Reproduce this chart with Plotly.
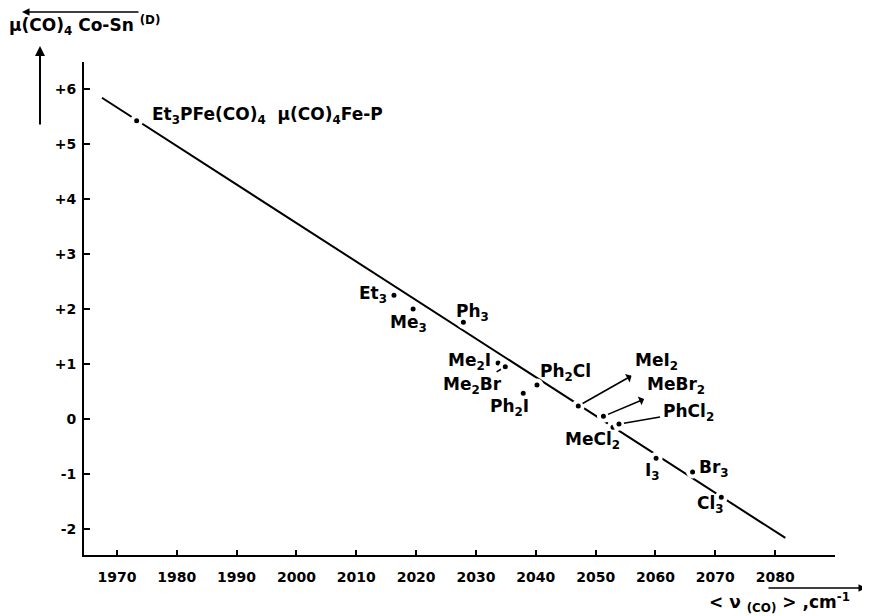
import plotly.graph_objects as go

# ---------------- data ----------------
compounds = ["Et3PFe(CO)4", "Et3", "Me3", "Ph3", "Me2I", "Me2Br", "Ph2I", "Ph2Cl",
             "MeI2", "MeBr2", "MeCl2", "PhCl2", "I3", "Br3", "Cl3"]
nu_co = [1973.3, 2016.3, 2019.5, 2027.9, 2033.7, 2034.9, 2037.9, 2040.2,
         2047.1, 2051.3, 2052.9, 2053.9, 2060.1, 2066.2, 2071.0]
mu_dipole = [5.42, 2.25, 2.00, 1.76, 1.02, 0.95, 0.47, 0.62,
             0.24, 0.05, -0.15, -0.09, -0.71, -0.96, -1.42]
labels = ["Et<sub>3</sub>PFe(CO)<sub>4</sub>  \u03bc(CO)<sub>4</sub>Fe-P",
          "Et<sub>3</sub>", "Me<sub>3</sub>", "Ph<sub>3</sub>", "Me<sub>2</sub>I",
          "Me<sub>2</sub>Br", "Ph<sub>2</sub>I", "Ph<sub>2</sub>Cl", "MeI<sub>2</sub>",
          "MeBr<sub>2</sub>", "MeCl<sub>2</sub>", "PhCl<sub>2</sub>", "I<sub>3</sub>",
          "Br<sub>3</sub>", "Cl<sub>3</sub>"]

fit_nu = [1967.5, 2081.7]
fit_mu = [5.84, -2.16]

x_ticks = [1970, 1980, 1990, 2000, 2010, 2020, 2030, 2040, 2050, 2060, 2070, 2080]
y_ticks = [6, 5, 4, 3, 2, 1, 0, -1, -2]
y_ticktext = ["+6", "+5", "+4", "+3", "+2", "+1", "0", "-1", "-2"]

# ---------------- style ----------------
FONT = "DejaVu Sans"
PAGE_PAD = 8                       # default body margin of the html page
W, H = 870 - PAGE_PAD, 616 - PAGE_PAD
L, R, T, B = 84 - PAGE_PAD, 35, 62 - PAGE_PAD, 61
PW, PH = W - L - R, H - T - B

def px(xp):
    return (xp - PAGE_PAD - L) / PW

def py(yp):
    return (H - B - (yp - PAGE_PAD)) / PH

LABEL_FONT = dict(family=FONT, size=17, color="black", weight="bold")

# label placement: (mode, xanchor, dx, dy)
placement = {
    "Et3PFe(CO)4": ("text", "left", 13, 5),
    "Et3": ("text", "right", -5, 1),
    "Me3": ("text", "center", -5, -14),
    "Ph3": ("text", "center", 9, 10),
    "Me2I": ("text", "right", -5, 1),
    "Me2Br": ("line", "center", -33, 19),
    "Ph2I": ("text", "center", -14, -14),
    "Ph2Cl": ("text", "center", 29, 12),
    "MeI2": ("arrow", "center", 78, -44),
    "MeBr2": ("arrow", "center", 73, -31),
    "PhCl2": ("line", "center", 70, -12),
    "MeCl2": ("text", "center", -20, -13),
    "I3": ("text", "center", -4, -13),
    "Br3": ("text", "left", 4, 3),
    "Cl3": ("text", "center", -11, -7),
}

fig = go.Figure()
fig.add_trace(go.Scatter(x=fit_nu, y=fit_mu, mode="lines",
                         line=dict(color="black", width=2), hoverinfo="skip",
                         showlegend=False))
fig.add_trace(go.Scatter(x=nu_co, y=mu_dipole, mode="markers", text=compounds,
                         marker=dict(color="black", size=9,
                                     line=dict(color="white", width=4)),
                         showlegend=False))

annotations = []
for name, xv, yv, lab in zip(compounds, nu_co, mu_dipole, labels):
    mode, xa, dx, dy = placement[name]
    if mode == "text":
        annotations.append(dict(x=xv, y=yv, xref="x", yref="y", text=lab,
                                showarrow=False, xanchor=xa, yanchor="middle",
                                xshift=dx, yshift=dy, font=LABEL_FONT))
    else:
        annotations.append(dict(x=xv, y=yv, xref="x", yref="y", text=lab,
                                showarrow=True, ax=dx, ay=dy,
                                axref="pixel", ayref="pixel",
                                arrowcolor="black", arrowwidth=1.6,
                                arrowhead=2 if mode == "arrow" else 0,
                                arrowsize=1.2,
                                arrowside="start" if mode == "arrow" else "end",
                                standoff=5, startstandoff=2, font=LABEL_FONT))

# y-axis title with overline arrow and vertical arrow
annotations.append(dict(xref="paper", yref="paper", x=px(7), y=py(25),
                        xanchor="left", yanchor="middle", showarrow=False,
                        text="\u03bc(CO)<sub>4</sub> Co-Sn <sup>(D)</sup>",
                        font=LABEL_FONT))
annotations.append(dict(xref="x domain", yref="y domain", axref="x domain", ayref="y domain",
                        x=px(22), y=py(12), ax=px(140), ay=py(12), text="",
                        showarrow=True, arrowhead=2, arrowsize=1, arrowwidth=1.5,
                        arrowcolor="black"))
annotations.append(dict(xref="x domain", yref="y domain", axref="x domain", ayref="y domain",
                        x=px(40), y=py(46), ax=px(40), ay=py(126), text="",
                        showarrow=True, arrowhead=2, arrowsize=1, arrowwidth=2,
                        arrowcolor="black"))
# x-axis title with arrow
annotations.append(dict(xref="paper", yref="paper", x=px(852), y=py(602),
                        xanchor="right", yanchor="middle", showarrow=False,
                        text="&lt; \u03bd <sub>(CO)</sub> &gt; ,cm<sup>-1</sup>",
                        font=LABEL_FONT))
annotations.append(dict(xref="x domain", yref="y domain", axref="x domain", ayref="y domain",
                        x=px(866), y=py(588), ax=px(767), ay=py(588), text="",
                        showarrow=True, arrowhead=2, arrowsize=1, arrowwidth=1.5,
                        arrowcolor="black"))

fig.update_layout(
    width=W, height=H,
    margin=dict(l=L, r=R, t=T, b=B),
    paper_bgcolor="white", plot_bgcolor="white",
    font=dict(family=FONT, size=14, color="black"),
    annotations=annotations,
    xaxis=dict(range=[1964.5, 2090], tickvals=x_ticks, ticks="inside", ticklen=5,
               tickwidth=1.5, tickcolor="black", showline=True, linecolor="black",
               linewidth=2, showgrid=False, zeroline=False, ticklabelstandoff=8,
               tickfont=dict(family=FONT, size=14, color="black", weight="bold")),
    yaxis=dict(range=[-2.47, 6.49], tickvals=y_ticks, ticktext=y_ticktext,
               ticks="inside", ticklen=6, tickwidth=1.5, tickcolor="black",
               showline=True, linecolor="black", linewidth=2, showgrid=False,
               zeroline=False, ticklabelstandoff=3,
               tickfont=dict(family=FONT, size=14, color="black", weight="bold")),
)

fig.write_html("out.html")
